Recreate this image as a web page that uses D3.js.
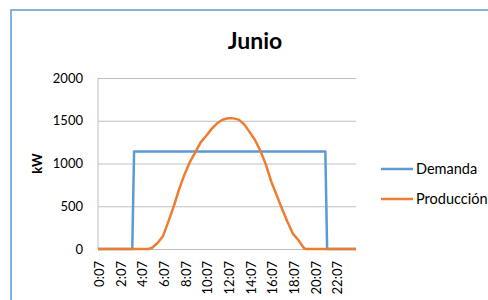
<!DOCTYPE html>
<html>
<head>
<meta charset="utf-8">
<script src="https://cdn.jsdelivr.net/npm/d3@7"></script>
<style>
    body { margin: 0; background: #fff; }
    svg { display: block; font-family: Lato, "Open Sans", sans-serif; }
</style>
</head>
<body>
<div id="chart"></div>
<script>
const chartTitle = "Junio";
const yTitle = "kW";
const seriesNames = ["Demanda", "Producción"];
const seriesColors = ["#5B9BD5", "#ED7D31"];
const yTicks = [0, 500, 1000, 1500, 2000];
const tickLabels = ["0:07", "2:07", "4:07", "6:07", "8:07", "10:07",
    "12:07", "14:07", "16:07", "18:07", "20:07", "22:07"];

// demanda: escalón de potencia constante
const demandaTimes = ["0:07", "3:17", "3:27", "21:07", "21:17", "23:57"];
const demandaValues = [0, 0, 1140, 1140, 0, 0];

// producción fotovoltaica, leída cada media hora
const produccionTimes = ["0:07", "4:47", "5:07", "5:37", "6:07", "6:37", "7:07", "7:37",
    "8:07", "8:37", "9:07", "9:37", "10:07", "10:37", "11:07", "11:37", "12:07", "12:37",
    "13:07", "13:37", "14:07", "14:37", "15:07", "15:37", "16:07", "16:37", "17:07",
    "17:37", "18:07", "18:37", "19:07", "19:17", "23:57"];
const produccionValues = [0, 0, 15, 70, 150, 320, 500, 700,
    875, 1020, 1135, 1250, 1325, 1405, 1470, 1512, 1530, 1528,
    1513, 1460, 1370, 1275, 1150, 990, 790, 630, 470,
    320, 180, 105, 15, 0, 0];

const toMinutes = s => {
    const [h, m] = s.split(":").map(Number);
    return h * 60 + m;
};

class LineChart {
    constructor() {
        this._width = 488;
        this._height = 300;
        this._margins = {top: 78, left: 98, right: 132, bottom: 51};
        this._svg = null;
        this._body = null;
    }

    getBodyWidth() {
        return this._width - this._margins.left - this._margins.right;
    }

    getBodyHeight() {
        return this._height - this._margins.top - this._margins.bottom;
    }

    renderChart() {
        this._svg = d3.select("#chart").append("svg")
            .attr("width", this._width)
            .attr("height", this._height);

        // marco del gráfico (se sale de la imagen por la derecha y abajo)
        this._svg.append("rect")
            .attr("x", 11).attr("y", 10)
            .attr("width", 520).attr("height", 320)
            .attr("fill", "#fff")
            .attr("stroke", "#5B9BD5")
            .attr("stroke-width", 1.5);

        this._svg.append("text")
            .attr("x", 255).attr("y", 49)
            .attr("text-anchor", "middle")
            .attr("font-size", 23).attr("font-weight", "bold")
            .attr("fill", "#000")
            .text(chartTitle);

        this._body = this._svg.append("g")
            .attr("transform", `translate(${this._margins.left},${this._margins.top})`);

        this.x = d3.scaleLinear()
            .domain([toMinutes("0:07"), toMinutes("23:57")])
            .range([0, this.getBodyWidth()]);
        this.y = d3.scaleLinear()
            .domain([0, 2000])
            .range([this.getBodyHeight(), 0]);

        this.renderAxes();
        this.renderLines();
        this.renderLegend();
    }

    renderAxes() {
        const w = this.getBodyWidth(), h = this.getBodyHeight();

        const yAxis = this._body.append("g")
            .call(d3.axisLeft(this.y).tickValues(yTicks).tickFormat(d3.format("d"))
                .tickSize(-w).tickPadding(15));
        yAxis.select(".domain").remove();
        yAxis.selectAll(".tick line").attr("stroke", "#BFBFBF").attr("stroke-width", 1);
        yAxis.selectAll(".tick text")
            .attr("font-size", 13).attr("fill", "#000")
            .style("font-family", "Lato, 'Open Sans', sans-serif");

        this._body.append("line")
            .attr("x1", 0).attr("x2", 0).attr("y1", 0).attr("y2", h)
            .attr("stroke", "#BFBFBF");

        const xAxis = this._body.append("g")
            .attr("transform", `translate(0,${h})`)
            .call(d3.axisBottom(this.x)
                .tickValues(tickLabels.map(toMinutes))
                .tickFormat((d, i) => tickLabels[i])
                .tickSize(0));
        xAxis.select(".domain").attr("stroke", "#BFBFBF");
        xAxis.selectAll(".tick text")
            .attr("font-size", 13).attr("fill", "#000")
            .style("font-family", "Lato, 'Open Sans', sans-serif")
            .attr("text-anchor", "end")
            .attr("transform", "rotate(-90)")
            .attr("x", -12).attr("y", 1)
            .attr("dy", "0.35em");

        this._svg.append("text")
            .attr("transform", `translate(42,${this._margins.top + h / 2}) rotate(-90)`)
            .attr("text-anchor", "middle")
            .attr("font-size", 13).attr("font-weight", "bold")
            .text(yTitle);
    }

    renderLines() {
        const line = d3.line()
            .x(d => this.x(d[0]))
            .y(d => this.y(d[1]));
        const series = [
            demandaTimes.map((t, i) => [toMinutes(t), demandaValues[i]]),
            produccionTimes.map((t, i) => [toMinutes(t), produccionValues[i]])
        ];
        series.forEach((s, i) => {
            this._body.append("path")
                .datum(s)
                .attr("d", line)
                .attr("fill", "none")
                .attr("stroke", seriesColors[i])
                .attr("stroke-width", 2.5)
                .attr("stroke-linejoin", "round");
        });
    }

    renderLegend() {
        const legend = this._svg.append("g").attr("transform", "translate(381,169)");
        seriesNames.forEach((name, i) => {
            const g = legend.append("g").attr("transform", `translate(0,${i * 30})`);
            g.append("line")
                .attr("x1", 0).attr("x2", 32)
                .attr("stroke", seriesColors[i]).attr("stroke-width", 2.5);
            g.append("text")
                .attr("x", 35).attr("dy", "0.35em")
                .attr("font-size", 14.5).attr("fill", "#000")
                .text(name);
        });
    }
}

new LineChart().renderChart();
</script>
</body>
</html>
